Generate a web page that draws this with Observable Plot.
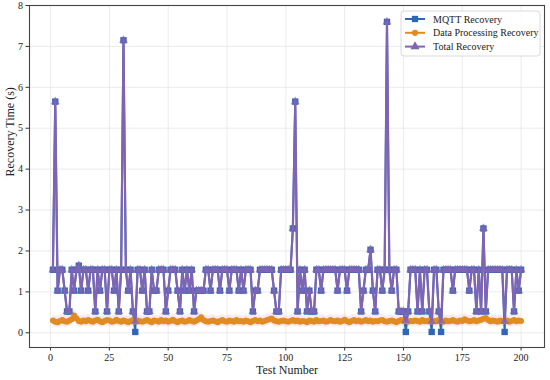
<!DOCTYPE html>
<html><head><meta charset="utf-8">
<script src="https://cdn.jsdelivr.net/npm/d3@7"></script>
<script src="https://cdn.jsdelivr.net/npm/@observablehq/plot@0.6"></script>
<style>
body{margin:0;background:#fff}
svg{font-family:"Liberation Serif","Times New Roman",serif}
</style>
</head><body><div id="chart"></div>
<script>
// Total recovery time per test (s)
const total = [
1.54,5.65,1.03,1.54,1.54,1.03,0.52,0.52,1.54,1.03,
1.54,1.64,1.03,1.54,1.54,1.03,1.54,1.54,0.52,1.54,
1.03,1.54,1.54,0.52,1.54,1.54,1.03,1.54,0.52,1.54,
7.15,1.54,1.03,1.54,0.52,0.27,1.54,1.54,1.03,1.54,
0.52,0.52,1.54,1.03,1.03,1.54,1.54,1.54,0.52,1.03,
1.54,1.54,1.54,1.03,0.52,1.54,1.03,1.54,1.03,1.54,
0.52,1.03,1.03,1.03,1.03,1.54,1.54,1.03,1.54,1.54,
1.54,1.03,1.54,1.54,1.54,1.03,1.54,1.54,1.54,1.03,
1.54,1.03,1.54,1.54,1.54,0.52,1.03,1.03,1.54,1.54,
1.54,1.54,1.54,1.54,1.03,0.52,0.52,1.54,1.54,1.54,
1.54,1.54,2.55,5.65,0.52,1.54,1.03,1.54,0.52,1.03,
0.52,0.52,1.54,1.54,1.03,1.54,1.54,1.54,1.54,1.54,
1.54,1.03,1.54,1.54,1.54,1.03,1.54,1.54,1.54,1.54,
1.54,0.52,1.03,1.54,1.54,2.03,1.03,0.52,1.54,1.54,
1.03,1.54,7.60,1.54,1.03,1.54,1.54,0.52,0.52,0.52,
0.30,0.52,1.54,1.54,1.54,0.52,1.54,0.52,1.54,1.54,
0.52,0.27,1.54,1.54,0.52,0.29,1.54,1.54,1.54,1.54,
1.03,1.54,1.54,1.54,1.54,1.54,1.54,1.03,1.54,1.54,
0.52,1.54,0.52,2.55,0.52,1.54,1.54,1.54,1.54,1.54,
1.54,1.54,0.28,1.54,1.54,1.54,0.52,1.54,1.03,1.54
];
// MQTT recovery time per test (s)
const mqtt = [
1.54,5.65,1.03,1.54,1.54,1.03,0.52,0.52,1.54,1.03,
1.54,1.64,1.03,1.54,1.54,1.03,1.54,1.54,0.52,1.54,
1.03,1.54,1.54,0.52,1.54,1.54,1.03,1.54,0.52,1.54,
7.15,1.54,1.03,1.54,0.52,0.02,1.54,1.54,1.03,1.54,
0.52,0.52,1.54,1.03,1.03,1.54,1.54,1.54,0.52,1.03,
1.54,1.54,1.54,1.03,0.52,1.54,1.03,1.54,1.03,1.54,
0.52,1.03,1.03,1.03,1.03,1.54,1.54,1.03,1.54,1.54,
1.54,1.03,1.54,1.54,1.54,1.03,1.54,1.54,1.54,1.03,
1.54,1.03,1.54,1.54,1.54,0.52,1.03,1.03,1.54,1.54,
1.54,1.54,1.54,1.54,1.03,0.52,0.52,1.54,1.54,1.54,
1.54,1.54,2.55,5.65,0.52,1.54,1.03,1.54,0.52,1.03,
0.52,0.52,1.54,1.54,1.03,1.54,1.54,1.54,1.54,1.54,
1.54,1.03,1.54,1.54,1.54,1.03,1.54,1.54,1.54,1.54,
1.54,0.52,1.03,1.54,1.54,2.03,1.03,0.52,1.54,1.54,
1.03,1.54,7.60,1.54,1.03,1.54,1.54,0.52,0.52,0.52,
0.02,0.52,1.54,1.54,1.54,0.52,1.54,0.52,1.54,1.54,
0.52,0.02,1.54,1.54,0.52,0.02,1.54,1.54,1.54,1.54,
1.03,1.54,1.54,1.54,1.54,1.54,1.54,1.03,1.54,1.54,
0.52,1.54,0.52,2.55,0.52,1.54,1.54,1.54,1.54,1.54,
1.54,1.54,0.02,1.54,1.54,1.54,0.52,1.54,1.03,1.54
];
// Data processing recovery time per test (s)
const dataProc = [
0.30,0.27,0.26,0.29,0.31,0.28,0.27,0.30,0.33,0.42,0.35,0.29,0.27,0.30,0.28,0.31,0.29,0.27,0.30,0.32,
0.28,0.26,0.29,0.31,0.30,0.27,0.28,0.32,0.29,0.27,0.30,0.28,0.26,0.29,0.31,0.27,0.30,0.28,0.27,0.29,
0.31,0.28,0.26,0.30,0.29,0.27,0.31,0.28,0.30,0.27,0.29,0.32,0.28,0.26,0.29,0.30,0.27,0.28,0.31,0.29,
0.27,0.30,0.33,0.38,0.31,0.28,0.27,0.29,0.30,0.28,0.26,0.29,0.31,0.28,0.27,0.30,0.29,0.27,0.31,0.28,
0.29,0.27,0.30,0.28,0.26,0.29,0.31,0.28,0.30,0.27,0.29,0.31,0.33,0.35,0.30,0.28,0.27,0.29,0.30,0.28,
0.27,0.29,0.31,0.28,0.30,0.27,0.29,0.28,0.26,0.30,0.29,0.27,0.31,0.28,0.29,0.30,0.27,0.28,0.31,0.29,
0.28,0.30,0.27,0.29,0.32,0.28,0.26,0.29,0.31,0.28,0.30,0.27,0.29,0.31,0.28,0.30,0.27,0.29,0.28,0.30,
0.31,0.28,0.27,0.29,0.30,0.28,0.26,0.29,0.31,0.28,0.30,0.27,0.29,0.28,0.30,0.29,0.27,0.31,0.28,0.29,
0.30,0.27,0.29,0.28,0.31,0.29,0.27,0.30,0.28,0.29,0.31,0.28,0.27,0.30,0.29,0.33,0.30,0.28,0.29,0.31,
0.28,0.30,0.32,0.34,0.36,0.31,0.28,0.30,0.29,0.27,0.30,0.29,0.28,0.30,0.27,0.29,0.31,0.28,0.30,0.29
];
const seriesNames = ["MQTT Recovery", "Data Processing Recovery", "Total Recovery"];
const xTicks = [0, 25, 50, 75, 100, 125, 150, 175, 200];
const yTicks = [0, 1, 2, 3, 4, 5, 6, 7, 8];

const BLUE = "#2f67b6", ORANGE = "#e08c22", PURPLE = "#8064b4";
const BAND = 0.14;

const rows = total.map((v, i) => ({test: i + 1, mqtt: mqtt[i], dp: dataProc[i], total: v}));

const chart = Plot.plot({
  width: 550, height: 380,
  marginLeft: 29, marginRight: 6, marginTop: 5, marginBottom: 33,
  style: {fontFamily: "'Liberation Serif', 'Times New Roman', serif", fontSize: "10px", background: "#fff", color: "#222"},
  x: {domain: [-8.95, 209.95], label: null},
  y: {domain: [-0.36, 8.0], label: null},
  marks: [
    Plot.gridX(xTicks, {stroke: "#e6e6e6", strokeOpacity: 1, strokeWidth: 0.8}),
    Plot.gridY(yTicks, {stroke: "#e6e6e6", strokeOpacity: 1, strokeWidth: 0.8}),
    Plot.areaY(rows, {x: "test", y1: d => d.dp - BAND, y2: d => d.dp + BAND, fill: "#f7d3e4", fillOpacity: 0.5}),
    Plot.lineY(rows, {x: "test", y: "mqtt", stroke: BLUE, strokeWidth: 2}),
    Plot.dot(rows, {x: "test", y: "mqtt", symbol: "square", r: 3.6, fill: BLUE, stroke: "none"}),
    Plot.lineY(rows, {x: "test", y: "dp", stroke: ORANGE, strokeWidth: 2}),
    Plot.dot(rows, {x: "test", y: "dp", r: 3, fill: ORANGE, stroke: "none"}),
    Plot.lineY(rows, {x: "test", y: "total", stroke: PURPLE, strokeWidth: 2.2}),
    Plot.dot(rows, {x: "test", y: "total", symbol: "triangle", r: 3.3, fill: PURPLE, stroke: "none", fillOpacity: 0.7}),
    Plot.axisX(xTicks, {tickSize: 3.5, tickPadding: 3, fontSize: 10, label: null, stroke: "#333"}),
    Plot.axisY(yTicks, {tickSize: 3.5, tickPadding: 3, fontSize: 10, label: null, stroke: "#333"}),
    Plot.text(["Test Number"], {frameAnchor: "bottom", dy: 26.5, fontSize: 12, fill: "#222"}),
    Plot.text(["Recovery Time (s)"], {frameAnchor: "left", dx: -19, rotate: -90, fontSize: 12, fill: "#222"}),
    Plot.frame({stroke: "#444", strokeWidth: 1.1})
  ]
});
document.getElementById("chart").appendChild(chart);

// Legend inside the plot, top right
const svg = d3.select(chart);
const lg = svg.append("g").attr("transform", "translate(401,11)");
lg.append("rect").attr("width", 139).attr("height", 45).attr("rx", 3)
  .attr("fill", "#fff").attr("fill-opacity", 0.85).attr("stroke", "#d0d0d0").attr("stroke-width", 0.8);
const colors = [BLUE, ORANGE, PURPLE];
const symbols = [d3.symbolSquare, d3.symbolCircle, d3.symbolTriangle];
const sizes = [40, 30, 36];
seriesNames.forEach((name, i) => {
  const y = 8 + i * 13.8;
  lg.append("line").attr("x1", 4).attr("x2", 24).attr("y1", y).attr("y2", y)
    .attr("stroke", colors[i]).attr("stroke-width", 2);
  lg.append("path").attr("d", d3.symbol(symbols[i], sizes[i])()).attr("transform", `translate(14,${y})`)
    .attr("fill", colors[i]);
  lg.append("text").attr("x", 32).attr("y", y).attr("dy", "0.35em")
    .attr("text-anchor", "start").attr("font-size", 10).attr("fill", "#222").text(name);
});
</script>
</body></html>
